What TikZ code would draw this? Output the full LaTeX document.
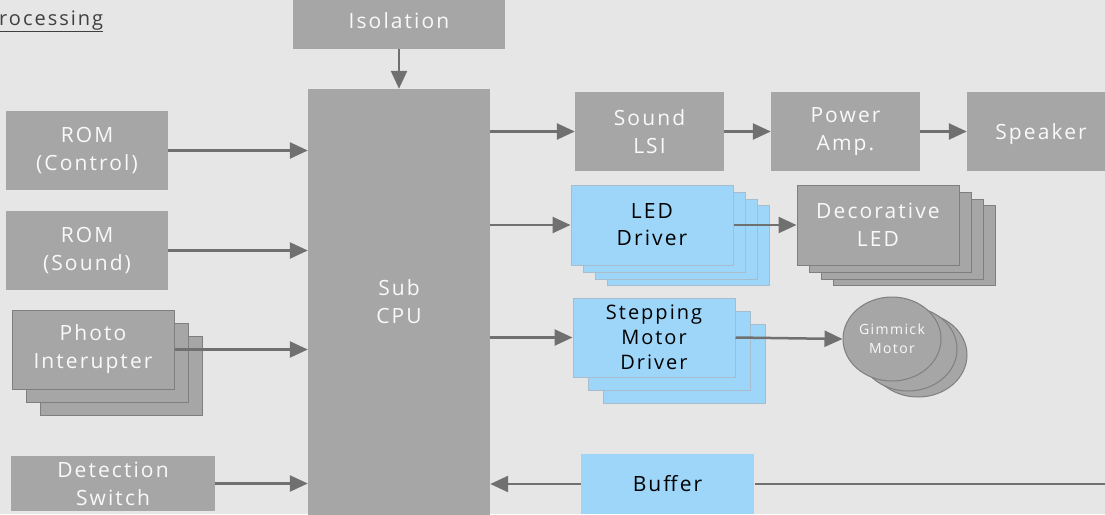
\documentclass[tikz,border=0pt]{standalone}
\usepackage{fontspec}
\setmainfont{Open Sans}[LetterSpace=10]
\usetikzlibrary{arrows.meta,shapes.geometric}
\definecolor{bg}{HTML}{E6E6E6}
\definecolor{boxgray}{HTML}{A6A6A6}
\definecolor{boxblue}{HTML}{9DD6F9}
\definecolor{arrowgray}{HTML}{707070}
\definecolor{edgegray}{HTML}{7F7F7F}
\definecolor{edgeblue}{HTML}{A8BCCB}
\definecolor{titlegray}{HTML}{404040}
\begin{document}
\begin{tikzpicture}[x=1pt,y=-1pt,
 box/.style={fill=boxgray, text=white!95!gray, inner sep=0pt, align=center, font=\fontsize{21}{28}\selectfont},
 sbox/.style={box, draw=edgegray, line width=1pt},
 bbox/.style={fill=boxblue, draw=edgeblue, line width=1pt, text=black, inner sep=0pt, align=center, font=\fontsize{21}{27}\selectfont},
 ebox/.style={ellipse, fill=boxgray, draw=edgegray, line width=1pt, minimum width=98pt, minimum height=84pt, inner sep=0pt, align=center, text=white!95!gray, font=\fontsize{14}{19}\selectfont},
 arr/.style={draw=arrowgray, line width=2.5pt, -{Triangle[length=18pt,width=16pt]}},
 ln/.style={draw=arrowgray, line width=2.5pt}]
\path[fill=bg] (0,0) rectangle (1105,514);
\useasboundingbox (0,0) rectangle (1105,514);

% title
\node[anchor=base west, inner sep=0pt, text=titlegray, font=\fontsize{20}{24}\selectfont] (title) at (-1,25) {\underline{rocessing}};

% top
\node[box, minimum width=212pt, minimum height=57pt] (iso) at (399,20.5) {Isolation};
\node[box, minimum width=182pt, minimum height=426pt] (cpu) at (399,302) {Sub\\CPU};

% left inputs
\node[box, minimum width=162pt, minimum height=79pt] (romc) at (87,150.5) {ROM\\(Control)};
\node[box, minimum width=162pt, minimum height=79pt] (roms) at (87,250.5) {ROM\\(Sound)};
\node[sbox, minimum width=162pt, minimum height=79pt] (photo3) at (121.5,375.5) {};
\node[sbox, minimum width=162pt, minimum height=79pt] (photo2) at (107,362.5) {};
\node[sbox, minimum width=162pt, minimum height=79pt] (photo1) at (93,349.5) {Photo\\Interupter};
\node[box, minimum width=204pt, minimum height=55pt] (det) at (113,483.5) {Detection\\Switch};

% sound chain
\node[box, minimum width=149pt, minimum height=79pt] (lsi) at (649.5,131.5) {Sound\\LSI};
\node[box, minimum width=149pt, minimum height=79pt] (amp) at (845.5,131.5) {Power\\Amp.};
\node[box, minimum width=148pt, minimum height=79pt, text depth=0pt] (spk) at (1041,131.5) {Speaker};

% LED driver stack
\node[bbox, minimum width=162pt, minimum height=80pt] (led4) at (688,245) {};
\node[bbox, minimum width=162pt, minimum height=80pt] (led3) at (676,239) {};
\node[bbox, minimum width=162pt, minimum height=80pt] (led2) at (664,232) {};
\node[bbox, minimum width=162pt, minimum height=80pt] (led1) at (652,225) {LED\\Driver};

% decorative LED stack
\node[sbox, minimum width=162pt, minimum height=80pt] (dec4) at (914,245) {};
\node[sbox, minimum width=162pt, minimum height=80pt] (dec3) at (902,239) {};
\node[sbox, minimum width=162pt, minimum height=80pt] (dec2) at (890,232) {};
\node[sbox, minimum width=162pt, minimum height=80pt] (dec1) at (878,225) {Decorative\\LED};

% stepping motor driver stack
\node[bbox, minimum width=162pt, minimum height=79pt] (stp3) at (684,363.5) {};
\node[bbox, minimum width=162pt, minimum height=79pt] (stp2) at (669,350.5) {};
\node[bbox, minimum width=162pt, minimum height=79pt, font=\fontsize{20}{25}\selectfont] (stp1) at (654,337.5) {Stepping\\Motor\\Driver};

% gimmick motor stack
\node[ebox] (gm3) at (918,355) {};
\node[ebox] (gm2) at (908,349) {};
\node[ebox] (gm1) at (892,339) {Gimmick\\Motor};

% buffer
\node[bbox, draw=none, minimum width=173pt, minimum height=60pt] (buf) at (667.5,484) {Buffer};
\coordinate (bufend) at (1110,484);

% connectors
\draw[arr] (iso) -- (cpu);
\draw[arr] (romc) -- (romc -| cpu.west);
\draw[arr] (roms) -- (roms -| cpu.west);
\draw[arr] (photo1.east) -- (photo1.east -| cpu.west);
\draw[arr] (det) -- (det -| cpu.west);
\draw[arr] (cpu.east |- lsi) -- (lsi);
\draw[arr] (lsi) -- (amp);
\draw[arr] (amp) -- (spk);
\draw[arr] (cpu.east |- led1) -- (led1);
\draw[arr] (led1.east) -- (dec1.west);
\draw[arr] (cpu.east |- stp1) -- (stp1);
\draw[arr] (stp1.east) -- (gm1.west);
\draw[arr] (buf.west) -- (buf.west -| cpu.east);
\draw[ln] (buf.east) -- (bufend);
\end{tikzpicture}
\end{document}
